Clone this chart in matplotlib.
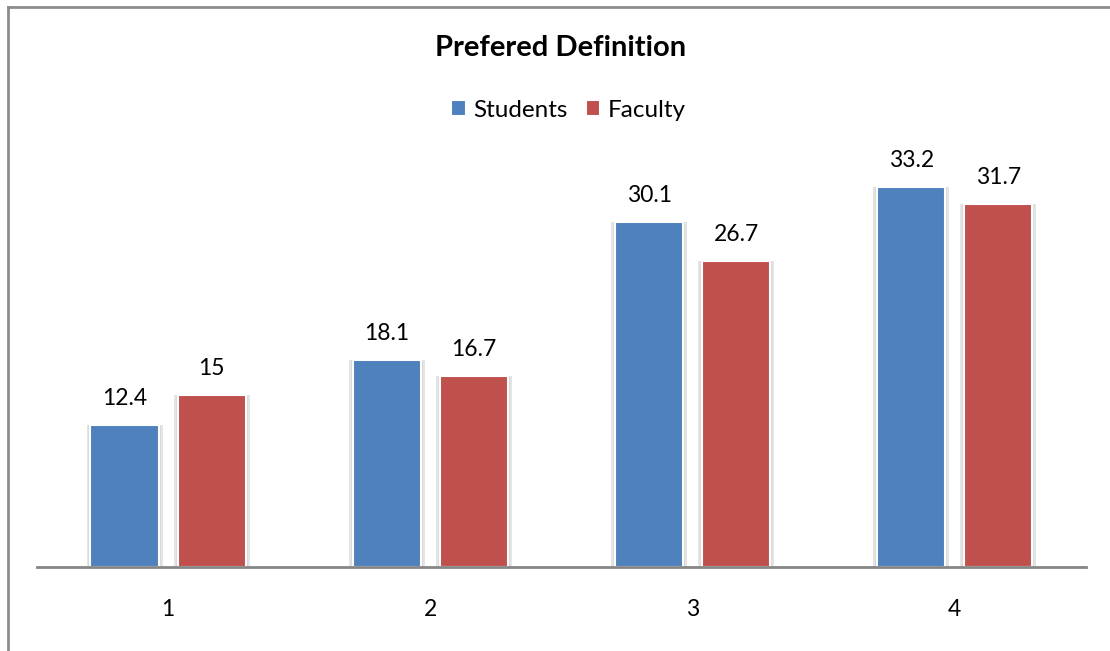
import matplotlib
matplotlib.use("Agg")
import matplotlib.pyplot as plt
import numpy as np

categories = ["1", "2", "3", "4"]
students = [12.4, 18.1, 30.1, 33.2]
faculty = [15, 16.7, 26.7, 31.7]
series_names = ["Students", "Faculty"]
title = "Prefered Definition"

blue = "#4F81BD"
red = "#C0504D"

plt.rcParams["font.family"] = ["Lato", "DejaVu Sans"]

fig = plt.figure(figsize=(11.10, 6.51), dpi=100)
ax = fig.add_axes([0.0333, 0.129, 0.945, 0.6157])

x = np.arange(1, len(categories) + 1)
width = 0.26
offset = 0.166

for vals, col, sign, name in [(students, blue, -1, series_names[0]),
                              (faculty, red, 1, series_names[1])]:
    pos = x + sign * offset
    # soft shadow behind each bar
    ax.bar(pos, vals, width=width + 0.03, color="#e4e4e4", zorder=1)
    ax.bar(pos, vals, width=width + 0.015, color="#d0d0d0", alpha=0.5, zorder=1)
    ax.bar(pos, vals, width=width, color=col, edgecolor="white",
           linewidth=1.5, zorder=2, label=name)
    for p, v in zip(pos, vals):
        ax.annotate(f"{v:g}", xy=(p, v), xytext=(0, 14.4),
                    textcoords="offset points", ha="center", va="baseline",
                    fontsize=16.5, color="black")

ax.set_xlim(0.5, 4.5)
ax.set_ylim(0, 35)
ax.set_xticks(x)
ax.set_xticklabels(categories, fontsize=16.5)
ax.tick_params(axis="x", length=0, pad=23)
ax.set_yticks([])
for s in ["top", "right", "left"]:
    ax.spines[s].set_visible(False)
ax.spines["bottom"].set_color("#868686")
ax.spines["bottom"].set_linewidth(2)
ax.spines["bottom"].set_zorder(3)

fig.text(0.505, 0.926, title, ha="center", va="center",
         fontsize=21, fontweight="bold")

leg = fig.legend(loc="center", bbox_to_anchor=(0.512, 0.831), ncol=2,
                 frameon=False, fontsize=17.5, handlelength=0.6,
                 handleheight=0.6, handletextpad=0.3, columnspacing=0.75)

# chart frame (left and top edges)
fig.add_artist(plt.Line2D([0.0068, 0.0068], [0, 0.989], transform=fig.transFigure,
                          color="#8c8c8c", linewidth=2))
fig.add_artist(plt.Line2D([0.0068, 1.0], [0.989, 0.989], transform=fig.transFigure,
                          color="#8c8c8c", linewidth=2))

fig.savefig("out.png", dpi=100)
